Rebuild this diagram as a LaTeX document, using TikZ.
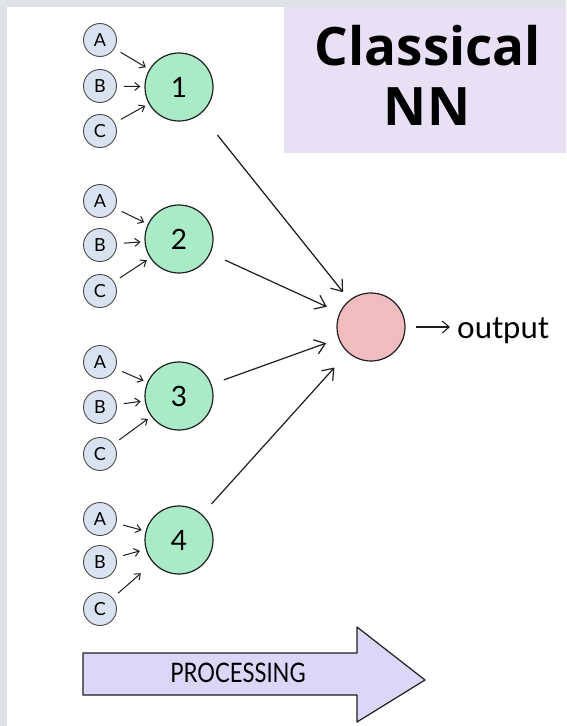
\documentclass[tikz,border=0pt]{standalone}
\usepackage{fontspec}
\setmainfont{Lato}
\newfontfamily\titlefont{Open Sans}
\usetikzlibrary{arrows.meta}
\definecolor{bggray}{HTML}{DFE2E7}
\definecolor{titlebg}{HTML}{E8E0F5}
\definecolor{procfill}{HTML}{DCD6F8}
\definecolor{inputfill}{HTML}{D9E2F0}
\definecolor{greenfill}{HTML}{A9EBC6}
\definecolor{pinkfill}{HTML}{F1BCC0}
\definecolor{inkc}{HTML}{1E1E1E}
\tikzset{
  inp/.style={circle, draw=inkc!80, line width=0.9pt, fill=inputfill, minimum size=33pt, inner sep=0pt, font=\fontsize{18}{18}\selectfont},
  hid/.style={circle, draw=inkc, line width=1.2pt, fill=greenfill, minimum size=68pt, inner sep=0pt, font=\fontsize{28}{28}\selectfont},
  outn/.style={circle, draw=inkc, line width=1.2pt, fill=pinkfill, minimum size=68pt, inner sep=0pt},
  inarr/.style={draw=inkc, line width=1pt, -{Straight Barb[length=5pt,width=8pt]}, shorten <=7pt, shorten >=4pt},
  bigarr/.style={draw=inkc, line width=1.2pt, -{Straight Barb[length=10pt,width=15pt]}},
}
\begin{document}
\begin{tikzpicture}[x=1pt,y=-1pt]
\useasboundingbox (0,0) rectangle (566,726);
\fill[bggray] (0,0) rectangle (566,726);
\fill[white] (7,7) rectangle (566,726);
\fill[titlebg] (284,7) rectangle (566,153);
\node[anchor=base, font=\titlefont\bfseries\fontsize{53}{60}\selectfont, inner sep=0pt] (t1) at (428,65) {Classical};
\node[anchor=base, font=\titlefont\bfseries\fontsize{53}{60}\selectfont, inner sep=0pt] (t2) at (427,125) {NN};

% group 1
\node[inp] (a1) at (100,40) {A};
\node[inp] (b1) at (100,86) {B};
\node[inp] (c1) at (100,131) {C};
\node[hid] (g1) at (179,87) {1};
% group 2
\node[inp] (a2) at (100,201) {A};
\node[inp] (b2) at (100,245) {B};
\node[inp] (c2) at (100,291) {C};
\node[hid] (g2) at (179,239) {2};
% group 3
\node[inp] (a3) at (100,362) {A};
\node[inp] (b3) at (100,407) {B};
\node[inp] (c3) at (100,454) {C};
\node[hid] (g3) at (179,396) {3};
% group 4
\node[inp] (a4) at (100,519) {A};
\node[inp] (b4) at (100,562) {B};
\node[inp] (c4) at (100,609) {C};
\node[hid] (g4) at (179,540) {4};

\foreach \i in {1,2,3}{
  \draw[inarr] (a\i) -- (g\i);
  \draw[inarr] (b\i) -- (g\i);
  \draw[inarr] (c\i) -- (g\i);
}
\draw[inarr] (a4) -- (g4);
\draw[inarr, shorten >=6pt] (b4) -- (g4);
\draw[inarr, shorten >=16pt] (c4) -- (g4);

% output
\node[outn] (o) at (371,327) {};
\node[anchor=base west, inner sep=0pt, font=\fontsize{31}{31}\selectfont] (ot) at (457,338) {output};
\draw[draw=inkc, line width=1.1pt, -{Straight Barb[length=7pt,width=12pt]}, shorten <=10pt, shorten >=7pt] (o) -- (ot.west |- o);

\draw[bigarr, shorten <=27pt, shorten >=10pt] (g1) -- (o);
\draw[bigarr, shorten <=16pt, shorten >=14pt] (g2) -- (o);
\draw[bigarr, shorten <=13pt, shorten >=13pt] (g3) -- (o);
\draw[bigarr, shorten <=14pt, shorten >=20pt] (g4) -- (o);

% processing arrow
\draw[draw=inkc, line width=1.2pt, fill=procfill, line join=round]
  (83,653) -- (357,653) -- (357,627) -- (425,680) -- (357,722) -- (357,695) -- (83,695) -- cycle;
\node[font=\fontsize{24}{24}\selectfont, inner sep=0pt] (proc) at (238,673) {\scalebox{0.92}[1.12]{PROCESSING}};
\end{tikzpicture}
\end{document}
